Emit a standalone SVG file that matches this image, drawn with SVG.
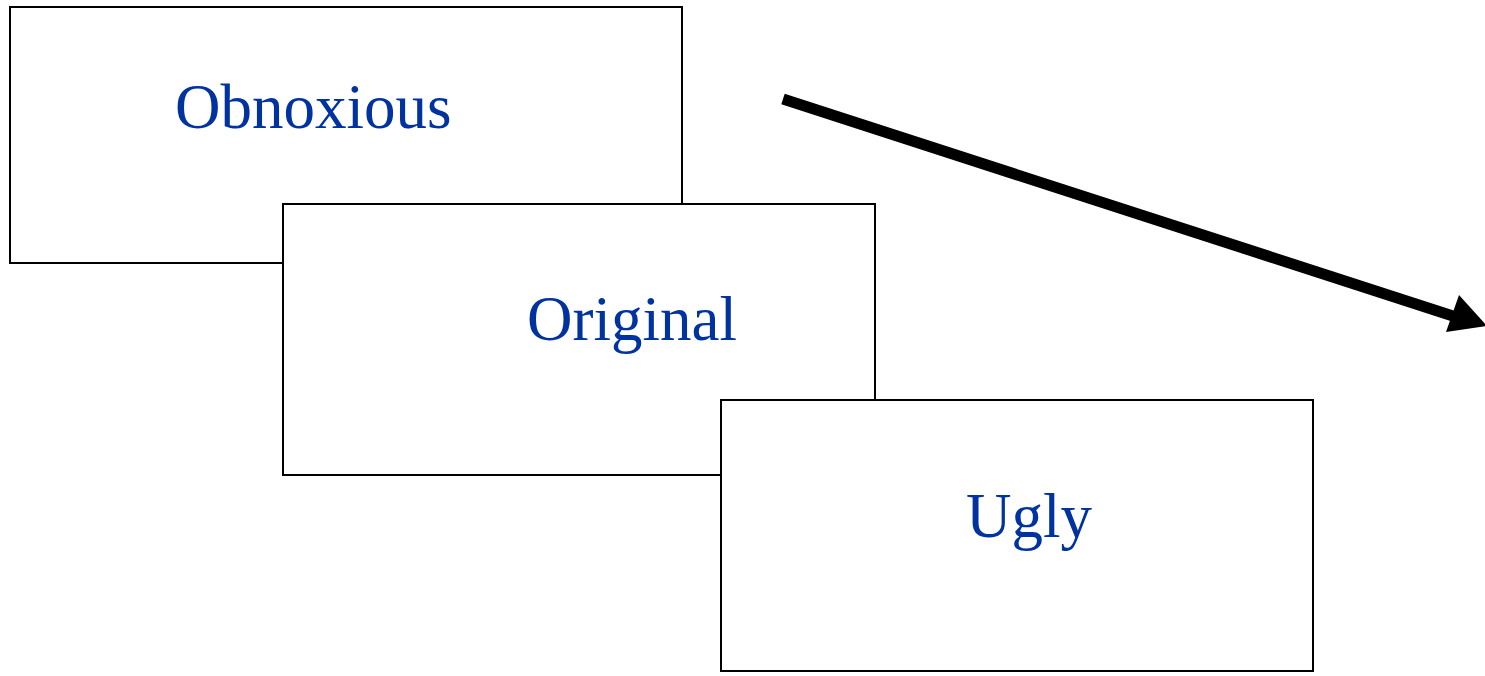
<svg xmlns="http://www.w3.org/2000/svg" width="1485" height="676" viewBox="0 0 1485 676">
  <style>
    .card { fill: #ffffff; stroke: #000000; stroke-width: 2; }
    .label { font-family: "Liberation Serif", "Times New Roman", serif; font-size: 63px; fill: #0033a0; }
  </style>
  <rect width="1485" height="676" fill="#ffffff"/>
  <g id="obnoxious">
    <rect class="card" x="10" y="7" width="672" height="256"/>
    <text class="label" x="175" y="128">Obnoxious</text>
  </g>
  <g id="original">
    <rect class="card" x="283" y="204" width="592" height="271"/>
    <text class="label" x="527" y="340">Original</text>
  </g>
  <g id="ugly">
    <rect class="card" x="721" y="400" width="592" height="271"/>
    <text class="label" x="966" y="537">Ugly</text>
  </g>
  <g id="connectors">
    <line x1="783" y1="99" x2="1456" y2="317" stroke="#000000" stroke-width="11"/>
    <polygon points="1487,326 1459,295 1446,332" fill="#000000"/>
  </g>
</svg>
